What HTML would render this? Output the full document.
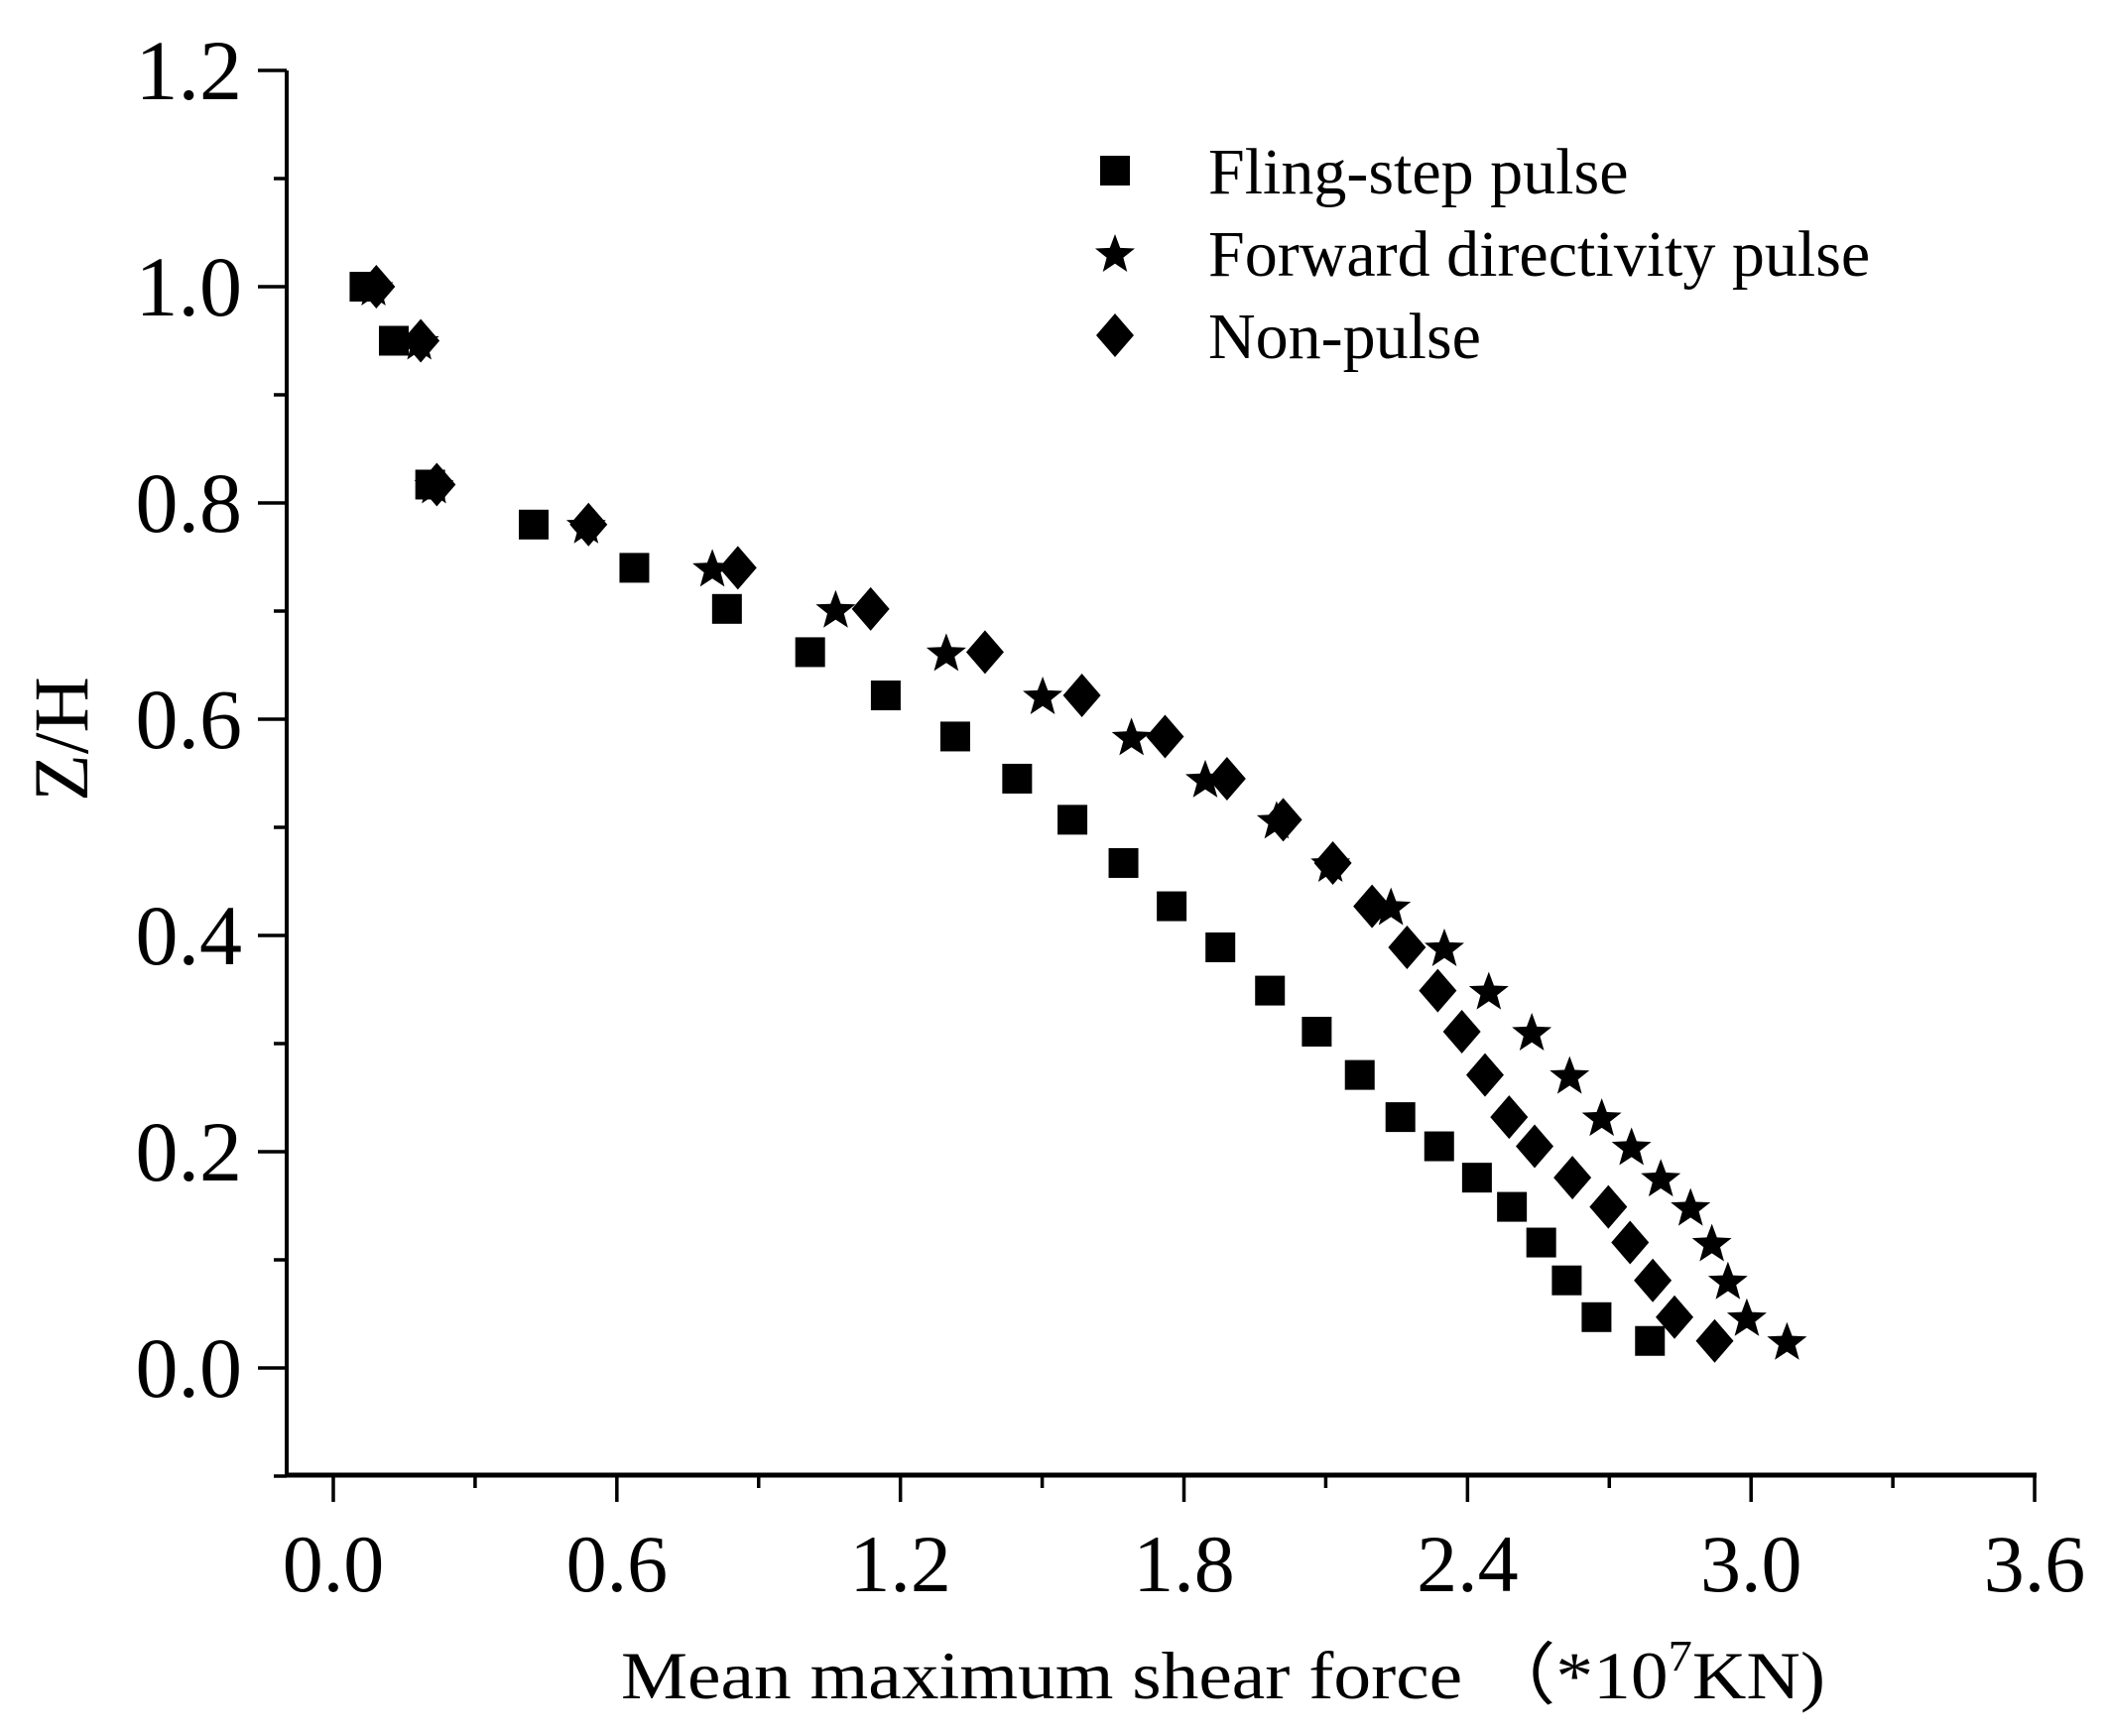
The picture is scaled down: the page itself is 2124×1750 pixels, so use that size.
<!DOCTYPE html>
<html><head><meta charset="utf-8"><style>
html,body{margin:0;padding:0;background:#fff;}
svg{display:block;font-family:"Liberation Serif",serif;}
</style></head><body>
<svg id="chart" width="2124" height="1750" viewBox="0 0 2124 1750" xmlns="http://www.w3.org/2000/svg">
<g id="axes"></g>
<g id="marks"></g>
<g id="legend"></g>
<text x="626" y="1712" font-size="68" textLength="1214" lengthAdjust="spacingAndGlyphs">Mean maximum shear force （*10<tspan font-size="44" dy="-28">7</tspan><tspan dy="28">KN)</tspan></text>
<text x="0" y="0" font-size="78" text-anchor="middle" transform="translate(88,745) rotate(-90)">Z/H</text>
</svg>
<script>
const xTicks = [0.0, 0.6, 1.2, 1.8, 2.4, 3.0, 3.6];
const xTickLabels = ["0.0","0.6","1.2","1.8","2.4","3.0","3.6"];
const yTicks = [0.0, 0.2, 0.4, 0.6, 0.8, 1.0, 1.2];
const yTickLabels = ["0.0","0.2","0.4","0.6","0.8","1.0","1.2"];
const zh = [1.0,0.95,0.817,0.78,0.74,0.702,0.662,0.622,0.584,0.545,0.507,0.467,0.427,0.389,0.349,0.311,0.271,0.232,0.205,0.176,0.149,0.116,0.081,0.047,0.025];
const flingStep = [0.066,0.128,0.205,0.424,0.637,0.833,1.009,1.169,1.316,1.447,1.564,1.672,1.774,1.877,1.982,2.081,2.172,2.258,2.340,2.420,2.494,2.556,2.610,2.673,2.786];
const forwardDir = [0.085,0.182,0.213,0.535,0.802,1.063,1.297,1.501,1.689,1.845,1.996,2.110,2.238,2.351,2.445,2.536,2.616,2.684,2.747,2.809,2.872,2.917,2.951,2.991,3.076];
const nonPulse = [0.091,0.185,0.219,0.540,0.856,1.137,1.379,1.584,1.760,1.891,2.010,2.115,2.198,2.272,2.337,2.388,2.437,2.488,2.542,2.622,2.698,2.744,2.792,2.838,2.923];

const NS="http://www.w3.org/2000/svg";
const X0=336, XS=476.4, Y0=1379, YS=1090;
function sx(v){return X0+v*XS;}
function sy(v){return Y0-v*YS;}
function mk(tag,attrs,parent){const e=document.createElementNS(NS,tag);for(const k in attrs)e.setAttribute(k,attrs[k]);parent.appendChild(e);return e;}
const axes=document.getElementById('axes');
const marks=document.getElementById('marks');
const legend=document.getElementById('legend');
const axL=289, axB=1487, axR=sx(3.6), axT=sy(1.2);
let e;
e=mk('line',{x1:axL,y1:axT,x2:axL,y2:axB+2,stroke:'#000','stroke-width':4},axes);


e=mk('line',{x1:axL-2,y1:axB,x2:axR+2,y2:axB,stroke:'#000','stroke-width':5},axes);


xTicks.forEach((v,i)=>{
  e=mk('line',{x1:sx(v),y1:axB,x2:sx(v),y2:axB+27,stroke:'#000','stroke-width':3.5},axes);
  
  
  if(i<xTicks.length-1){
    e=mk('line',{x1:sx(v+0.3),y1:axB,x2:sx(v+0.3),y2:axB+13,stroke:'#000','stroke-width':3.5},axes);
    
    
  }
  const t=mk('text',{x:sx(v),y:1604,'font-size':82,'text-anchor':'middle'},axes);
  t.textContent=xTickLabels[i];
  
  
});
yTicks.forEach((v,i)=>{
  e=mk('line',{x1:axL-29,y1:sy(v),x2:axL,y2:sy(v),stroke:'#000','stroke-width':3.5},axes);
  
  
  e=mk('line',{x1:axL-13,y1:sy(v-0.1),x2:axL,y2:sy(v-0.1),stroke:'#000','stroke-width':3.5},axes);
  
  
  const t=mk('text',{x:244,y:sy(v)+29,'font-size':86,'text-anchor':'end'},axes);
  t.textContent=yTickLabels[i];
  
  
});
function starPts(cx,cy,R){const r=R*0.42;let p=[];for(let k=0;k<10;k++){const a=-Math.PI/2+k*Math.PI/5;const rr=k%2?r:R;p.push((cx+rr*Math.cos(a)).toFixed(1)+','+(cy+rr*Math.sin(a)).toFixed(1));}return p.join(' ');}
function square(cx,cy,parent){return mk('rect',{x:cx-15,y:cy-15,width:30,height:30,fill:'#000'},parent);}
function star(cx,cy,parent){return mk('polygon',{points:starPts(cx,cy+2,21),fill:'#000'},parent);}
function diamond(cx,cy,parent){return mk('polygon',{points:`${cx},${cy-22} ${cx+19},${cy} ${cx},${cy+22} ${cx-19},${cy}`,fill:'#000'},parent);}
flingStep.forEach((v,i)=>{e=square(sx(v),sy(zh[i]),marks);
  
  });
forwardDir.forEach((v,i)=>{e=star(sx(v),sy(zh[i]),marks);
  
  });
nonPulse.forEach((v,i)=>{e=diamond(sx(v),sy(zh[i]),marks);
  
  });
const leg=[["Fling-step pulse",square,172],["Forward directivity pulse",star,255],["Non-pulse",diamond,338]];
leg.forEach(([lab,fn,y])=>{
  e=fn(1124,y,legend);
  
  
  const t=mk('text',{x:1218,y:y+23,'font-size':66},legend);
  t.textContent=lab;
  
  
});
</script>
</body></html>
